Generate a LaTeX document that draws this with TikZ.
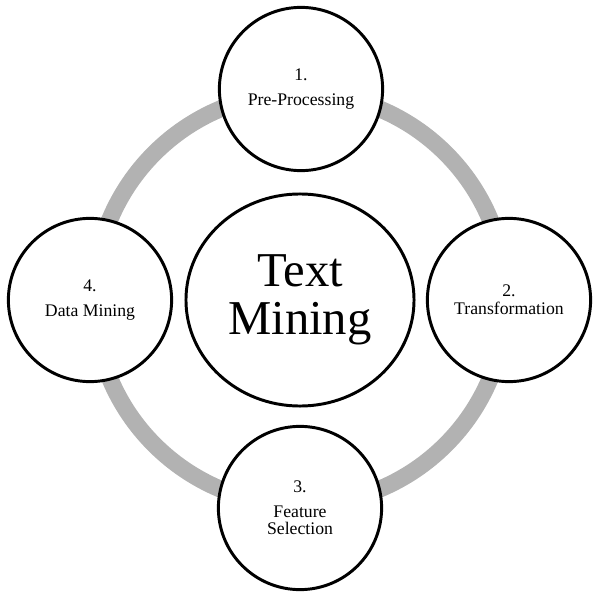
\documentclass[tikz,border=0pt]{standalone}
\usepackage{fontspec}
\setmainfont{Liberation Serif}
\usetikzlibrary{shapes.geometric, positioning, calc}

\tikzset{
  stage/.style={draw, circle, fill=white, line width=2.1pt, minimum size=4.08cm, inner sep=0pt,
    align=center, font=\fontsize{12.6}{17.8}\selectfont},
  hub/.style={draw, ellipse, fill=white, line width=2.1pt, minimum width=5.7cm, minimum height=5.3cm,
    inner sep=0pt, align=center, font=\fontsize{34.6}{34.3}\selectfont},
  ring/.style={line width=0.425cm, draw=black!30}
}

\begin{document}
\begin{tikzpicture}[x=0.025cm,y=-0.025cm]
      \def\rad{5.15cm}

      \useasboundingbox (0,0) rectangle (600,598);

      \coordinate (mid) at (300,299);
      \draw[ring] (mid) circle[radius=\rad];

      \node[hub] (tm) at (300,300) {Text\\Mining};

      \node[stage] (pre) at (301,89) {1.\\Pre-Processing};
      \node[stage] (trans) at (509,300) {2.\\[-5pt]Transformation};
      \node[stage] (feat) at (300,508) {3.\\Feature\\[-5.7pt]Selection};
      \node[stage] (dmin) at (90,300) {4.\\Data Mining};
    \end{tikzpicture}
\end{document}
